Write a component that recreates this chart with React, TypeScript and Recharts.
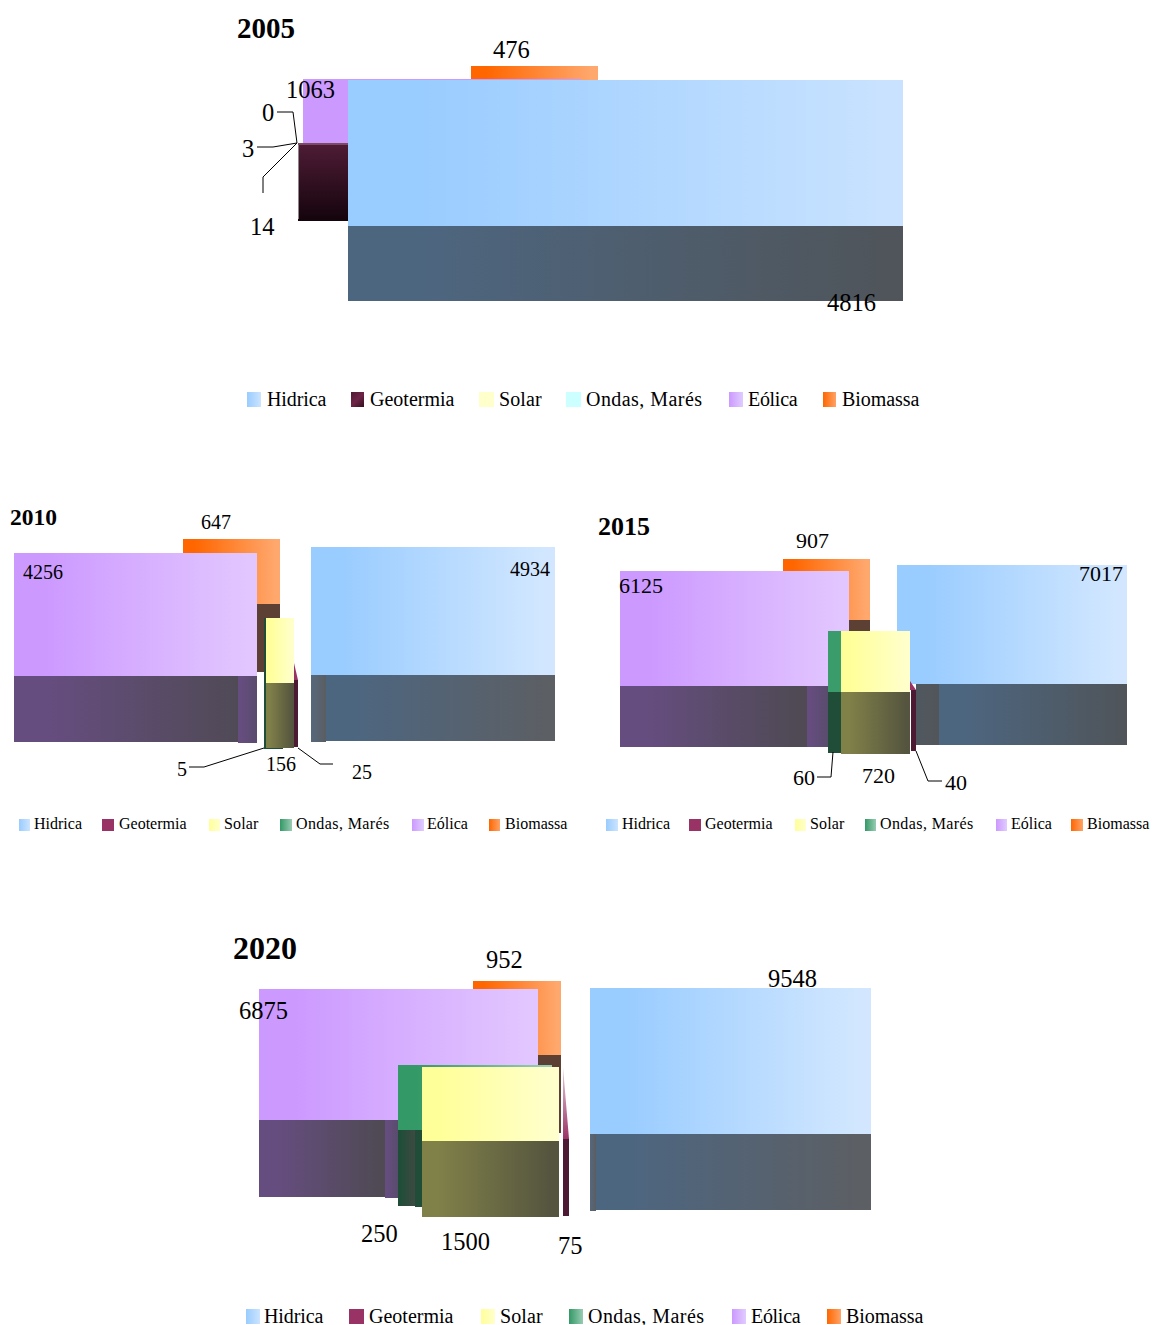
import React from "react";
import { ComposedChart, XAxis, YAxis, ReferenceArea, Scatter, Line, Legend } from "recharts";

const FONT = '"Liberation Serif", serif';

// ---- categories and values
const sources = ["Hidrica", "Geotermia", "Solar", "Ondas, Marés", "Eólica", "Biomassa"];
const hidrica = [4816, 4934, 7017, 9548];
const geotermia = [14, 25, 40, 75];
const solar = [3, 156, 720, 1500];
const ondas = [0, 5, 60, 250];
const eolica = [1063, 4256, 6125, 6875];
const biomassa = [476, 647, 907, 952];
const years = ["2005", "2010", "2015", "2020"];

// ---- fills: [from, to, direction]
const fills: Record<string, [string, string, ("h" | "v")?]> = {
  hidTop: ["#99ccff", "#d2e7ff"],
  hidTop05: ["#99ccff", "#c8e2ff"],
  hidDark: ["#4d6680", "#4f555b"],
  hidDark2: ["#4d6680", "#5c5f64"],
  hidStrip: ["#56677a", "#5a5e63"],
  hidStrip15: ["#50585f", "#52565a"],
  eolTop: ["#cc99ff", "#e2c6ff"],
  eolFlat: ["#cc99ff", "#cc99ff"],
  eolDark: ["#664d80", "#4f4a54"],
  eolStrip: ["#664d80", "#5a4c6e"],
  bioTop: ["#ff6600", "#ffa86e"],
  bioDark: ["#5c4033", "#5c4033"],
  solTop: ["#ffff99", "#ffffcc"],
  solDark: ["#808049", "#54543f"],
  ondTop: ["#339966", "#99ccb3"],
  ondFlat: ["#3a9c6b", "#3a9c6b"],
  ondDark: ["#1f4d38", "#1f4d38"],
  ondDark2: ["#1f4d38", "#3c4a42"],
  geoDark: ["#4d1a33", "#4d1a33"],
  geoTop: ["#993366", "#993366"],
  geoFade: ["#e8cfdb", "#993366", "v"],
  geo05: ["#4f1c36", "#14040c", "v"],
  geo05Top: ["#7d4a62", "#7d4a62"],
  geo05Edge: ["#8f8489", "#8f8489"],
};

// ---- faces: fill, x1, x2, y1, y2 in axis units, painted in order
type Face = [string, number, number, number, number, boolean?];
const faces2005: Face[] = [
  ["bioTop", 471, 598, 66, 81],
  ["eolFlat", 303, 581, 79, 146],
  ["geo05", 298, 348, 143, 221],
  ["geo05Top", 298, 348, 143, 145],
  ["geo05Edge", 298, 299, 145, 219],
  ["hidTop05", 348, 903, 80, 226],
  ["hidDark", 348, 903, 226, 301],
];
const faces2010: Face[] = [
  ["bioTop", 183, 280, 539, 604],
  ["bioDark", 257, 280, 604, 672],
  ["eolTop", 14, 257, 553, 676],
  ["eolDark", 14, 257, 676, 742],
  ["eolStrip", 238, 257, 676, 743],
  ["hidTop", 311, 555, 547, 675],
  ["hidDark2", 326, 555, 675, 741],
  ["hidStrip", 311, 326, 675, 742],
  ["geoTop", 294, 298, 663, 680, true],
  ["geoDark", 294, 298, 680, 747],
  ["ondDark", 264, 283, 683, 749],
  ["ondDark", 264, 266, 618, 683],
  ["solTop", 266, 294, 618, 683],
  ["solDark", 266, 294, 683, 748],
];
const faces2015: Face[] = [
  ["bioTop", 783, 870, 559, 620],
  ["bioDark", 849, 870, 620, 632],
  ["eolTop", 620, 849, 571, 686],
  ["eolDark", 620, 807, 686, 747],
  ["eolStrip", 807, 828, 686, 747],
  ["hidTop", 897, 1127, 565, 684],
  ["hidStrip15", 916, 939, 684, 745],
  ["hidDark", 939, 1127, 684, 745],
  ["geoTop", 910, 916, 681, 690, true],
  ["geoDark", 911, 916, 690, 751],
  ["ondFlat", 828, 841, 631, 692],
  ["ondDark", 828, 841, 692, 753],
  ["solTop", 841, 910, 631, 692],
  ["solDark", 841, 910, 692, 754],
];
const faces2020: Face[] = [
  ["bioTop", 473, 561, 981, 1055],
  ["bioDark", 538, 561, 1055, 1133],
  ["eolTop", 259, 538, 989, 1120],
  ["eolDark", 259, 385, 1120, 1197],
  ["eolStrip", 385, 398, 1120, 1198],
  ["hidTop", 590, 871, 988, 1134],
  ["hidDark2", 596, 871, 1134, 1210],
  ["hidStrip", 590, 596, 1134, 1211],
  ["geoFade", 563, 569, 1067, 1139, true],
  ["geoDark", 563, 569, 1139, 1216],
  ["ondTop", 398, 552, 1065, 1130],
  ["ondDark2", 398, 415, 1130, 1206],
  ["ondDark", 415, 422, 1130, 1207],
  ["solTop", 422, 559, 1067, 1141],
  ["solDark", 422, 559, 1141, 1217],
];

// ---- value-label anchors (left, baseline), same order as `sources`
const labelAt2005 = [[827, 311], [250, 235], [242, 157], [262, 121], [286, 98], [493, 58]];
const labelAt2010 = [[510, 576], [352, 779], [266, 771], [177, 776], [23, 579], [201, 529]];
const labelAt2015 = [[1079, 581], [945, 790], [862, 783], [793, 785], [619, 593], [796, 548]];
const labelAt2020 = [[768, 987], [558, 1254], [441, 1250], [361, 1242], [239, 1019], [486, 968]];

// ---- leader lines
const leaders2005 = [
  [[277, 112], [293, 112], [297, 143]],
  [[257, 147], [273, 147], [297, 143]],
  [[263, 193], [263, 177], [297, 143]],
];
const leaders2010 = [
  [[189, 767], [204, 767], [264, 748]],
  [[298, 748], [320, 764], [333, 764]],
];
const leaders2015 = [
  [[817, 777], [831, 777], [833, 752]],
  [[942, 781], [928, 781], [916, 751]],
];
const leaders2020: number[][][] = [];

// ---- legend swatches [left, width], text starts and tracking
const legendSwatch2005 = [[247, 14], [351, 13], [479, 15], [566, 15], [729, 14], [823, 13]];
const legendText2005 = [267, 370, 499, 586, 748, 842];
const legendSwatch2010 = [[19, 11], [102, 12], [209, 11], [280, 12], [412, 12], [489, 11]];
const legendText2010 = [34, 119, 224, 296, 427, 505];
const legendSwatch2015 = [[606, 12], [689, 12], [795, 11], [865, 11], [996, 11], [1071, 12]];
const legendText2015 = [622, 705, 810, 880, 1011, 1087];
const legendSwatch2020 = [[246, 14], [349, 15], [481, 14], [569, 14], [732, 14], [827, 14]];
const legendText2020 = [264, 369, 500, 588, 751, 846];
const legendTracking20 = [-0.1, 0, 0.1, 0.45, -0.3, -0.05];
const legendTracking16 = [0, 0, 0.15, 0.4, 0, 0.03];

const swatchFaint = ["linear-gradient(90deg,#99ccff,#cce4ff)", "linear-gradient(135deg,#4d1a33,#6e2448 50%,#33101f)", "#ffffcc", "#ccffff", "linear-gradient(90deg,#cc99ff,#e0ccff)", "linear-gradient(90deg,#ff6600,#ffa366)"];
const swatchFull = ["linear-gradient(90deg,#99ccff,#cce4ff)", "#993366", "linear-gradient(90deg,#ffff99,#ffffcc)", "linear-gradient(90deg,#339966,#99ccb3)", "linear-gradient(90deg,#cc99ff,#e0ccff)", "linear-gradient(90deg,#ff6600,#ffa366)"];

const panels = [
  { i: 0, box: [0, 0, 1152, 440], faces: faces2005, labelAt: labelAt2005, leaders: leaders2005, title: [237, 38, 29], size: 24.5, swatch: legendSwatch2005, text: legendText2005, lgY: 392, lgH: 15, lgBase: 406, lgSize: 20, track: legendTracking20, swatchFill: swatchFaint },
  { i: 1, box: [0, 490, 590, 360], faces: faces2010, labelAt: labelAt2010, leaders: leaders2010, title: [10, 525, 23.5], size: 20, swatch: legendSwatch2010, text: legendText2010, lgY: 819, lgH: 12, lgBase: 829, lgSize: 16, track: legendTracking16, swatchFill: swatchFull },
  { i: 2, box: [590, 490, 562, 360], faces: faces2015, labelAt: labelAt2015, leaders: leaders2015, title: [598, 535, 26], size: 22, swatch: legendSwatch2015, text: legendText2015, lgY: 819, lgH: 12, lgBase: 829, lgSize: 16, track: legendTracking16, swatchFill: swatchFull },
  { i: 3, box: [0, 920, 1152, 405], faces: faces2020, labelAt: labelAt2020, leaders: leaders2020, title: [233, 959, 32], size: 24.5, swatch: legendSwatch2020, text: legendText2020, lgY: 1309, lgH: 15, lgBase: 1323, lgSize: 20, track: legendTracking20, swatchFill: swatchFull },
];

const valuesByYear = (i: number) => [hidrica[i], geotermia[i], solar[i], ondas[i], eolica[i], biomassa[i]];

const Triangle = (props: any) => {
  const { x, y, width, height, fill } = props;
  return <path d={`M${x},${y}L${x + width},${y + height}L${x},${y + height}Z`} fill={fill} stroke="none" />;
};

const TextMark = (props: any) => (
  <text x={props.cx} y={props.cy} fontFamily={FONT} fontSize={props.payload.size} fontWeight={props.payload.weight} fill="#000">
    {props.payload.label}
  </text>
);

function Panel({ p }: { p: (typeof panels)[number] }) {
  const [left, top, w, h] = p.box;
  const vals = valuesByYear(p.i);
  const labels = vals.map((v, k) => ({ x: p.labelAt[k][0], y: p.labelAt[k][1], label: String(v), size: p.size, weight: "normal" }));
  const titleData = [{ x: p.title[0], y: p.title[1], label: years[p.i], size: p.title[2], weight: "bold" }];
  const used = Array.from(new Set(p.faces.map((f) => f[0])));
  const legendContent = () => (
    <div style={{ position: "relative", width: 0, height: 0 }}>
      {sources.map((s, k) => (
        <React.Fragment key={s}>
          <span style={{ position: "absolute", left: p.swatch[k][0] - left, top: p.lgY - top, width: p.swatch[k][1], height: p.lgH, background: p.swatchFill[k] }} />
          <span style={{ position: "absolute", left: p.text[k] - left, top: p.lgBase - top - 0.7625 * p.lgSize, fontFamily: FONT, fontSize: p.lgSize, lineHeight: 0.85, letterSpacing: p.track[k], color: "#000", whiteSpace: "nowrap" }}>{s}</span>
        </React.Fragment>
      ))}
    </div>
  );
  return (
    <div style={{ position: "absolute", left, top, width: w, height: h }}>
      <ComposedChart width={w} height={h} margin={{ top: 0, right: 0, bottom: 0, left: 0 }}>
        <defs>
          {used.map((id) => {
            const [a, b, dir] = fills[id];
            return (
              <linearGradient key={id} id={`g${p.i}-${id}`} x1="0" y1="0" x2={dir === "v" ? "0" : "1"} y2={dir === "v" ? "1" : "0"}>
                <stop offset={dir === "v" ? 0 : 0.12} stopColor={a} />
                <stop offset={dir === "v" ? 1 : 0.96} stopColor={b} />
              </linearGradient>
            );
          })}
        </defs>
        <XAxis type="number" dataKey="x" domain={[left, left + w]} hide allowDataOverflow />
        <YAxis type="number" dataKey="y" domain={[top, top + h]} reversed hide allowDataOverflow width={0} />
        <Legend content={legendContent} wrapperStyle={{ left: 0, top: 0, bottom: "auto", width: 0, height: 0 }} />
        {p.faces.map((f, k) => (
          <ReferenceArea
            key={k}
            x1={f[1]}
            x2={f[2]}
            y1={f[3]}
            y2={f[4]}
            fill={`url(#g${p.i}-${f[0]})`}
            fillOpacity={1}
            stroke="none"
            ifOverflow="visible"
            shape={f[5] ? Triangle : undefined}
          />
        ))}
        {p.leaders.map((pts, k) => (
          <Line
            key={k}
            data={pts.map(([x, y]) => ({ x, y }))}
            dataKey="y"
            type="linear"
            stroke="#000"
            strokeWidth={1}
            dot={false}
            legendType="none"
            isAnimationActive={false}
          />
        ))}
        <Scatter name="valores" data={labels} shape={TextMark} legendType="none" isAnimationActive={false} />
        <Scatter name="titulo" data={titleData} shape={TextMark} legendType="none" isAnimationActive={false} />
      </ComposedChart>
    </div>
  );
}

export default function App() {
  return (
    <div style={{ position: "absolute", left: 0, top: 0, width: 1152, height: 1325, background: "#fff", overflow: "hidden" }}>
      {panels.map((p) => (
        <Panel key={p.i} p={p} />
      ))}
    </div>
  );
}
